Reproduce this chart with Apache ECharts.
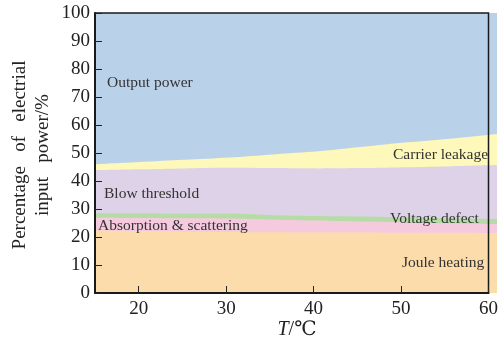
<!DOCTYPE html>
<html>
<head>
<meta charset="utf-8">
<script src="https://cdn.jsdelivr.net/npm/echarts@6/dist/echarts.min.js"></script>
<style>
html,body{margin:0;padding:0;background:#fff}
#wrap{position:relative;width:501px;height:348px}
#c,#o{position:absolute;left:0;top:0;width:501px;height:348px}
</style>
</head>
<body>
<div id="wrap"><div id="c"></div><div id="o"></div></div>
<script>
// Temperature (°C)
const temps = [15, 20, 25, 30, 35, 40, 45, 50, 55, 60];
// Cumulative upper boundaries of each layer (% of electrical input power)
const jouleTop      = [22.3, 22.1, 21.9, 21.8, 21.7, 21.6, 21.6, 21.5, 21.5, 21.4];
const absorptionTop = [26.9, 26.8, 26.7, 26.6, 26.2, 25.9, 25.5, 25.2, 24.9, 24.6];
const voltageTop    = [28.5, 28.5, 28.4, 28.4, 27.8, 27.5, 27.3, 27.0, 26.7, 26.4];
const thresholdTop  = [43.9, 44.2, 44.5, 44.7, 44.6, 44.5, 44.6, 44.9, 45.3, 45.7];
const leakageTop    = [46.0, 46.8, 47.6, 48.4, 49.5, 50.6, 52.2, 53.8, 55.2, 56.8];
const outputTop     = [100, 100, 100, 100, 100, 100, 100, 100, 100, 100];
const yTicks = [0, 10, 20, 30, 40, 50, 60, 70, 80, 90, 100];
const xTicks = [20, 30, 40, 50, 60];

// drawn back-to-front: each area fills from its upper boundary down to 0
const layers = [
  {name: 'Output power', top: outputTop, color: '#bad1ea'},
  {name: 'Carrier leakage', top: leakageTop, color: '#fef8bb'},
  {name: 'Blow threshold', top: thresholdTop, color: '#ddd2e8'},
  {name: 'Voltage defect', top: voltageTop, color: '#b6dca6'},
  {name: 'Absorption & scattering', top: absorptionTop, color: '#f6cade'},
  {name: 'Joule heating', top: jouleTop, color: '#fcdcab'}
];

const serif = '"Liberation Serif", "DejaVu Serif", serif';
const gridBox = {left: 95, right: 4, top: 13, bottom: 55};

// ---- bottom chart: the filled areas ----
const series = layers.map(l => ({
  name: l.name,
  type: 'line',
  smooth: 0.3,
  showSymbol: false,
  symbol: 'none',
  lineStyle: {width: 0},
  areaStyle: {color: l.color, opacity: 1, origin: 'start'},
  data: temps.map((t, i) => [t, l.top[i]])
}));
const chart = echarts.init(document.getElementById('c'), null, {renderer: 'canvas'});
chart.setOption({
  animation: false,
  backgroundColor: '#fff',
  grid: gridBox,
  xAxis: {type: 'value', min: 15, max: 60, show: false},
  yAxis: {type: 'value', min: 0, max: 100, interval: 10, show: false},
  series: series
});

// ---- overlay chart (transparent): axes, ticks, frame and texts on top ----
const textStyle = {fontFamily: serif, fontSize: 15.5, fill: '#333'};
const over = echarts.init(document.getElementById('o'), null, {renderer: 'canvas'});
over.setOption({
  animation: false,
  backgroundColor: 'transparent',
  grid: Object.assign({show: true, borderColor: '#1a1a1a', borderWidth: 1.5, backgroundColor: 'transparent'}, gridBox),
  xAxis: {
    type: 'value', min: 15, max: 60,
    axisLine: {show: true, onZero: false, lineStyle: {color: '#1a1a1a', width: 2}},
    axisTick: {show: true, inside: true, length: 7, lineStyle: {color: '#222', width: 1}, customValues: xTicks},
    axisLabel: {customValues: xTicks, color: '#222', fontFamily: serif, fontSize: 19, margin: 7},
    splitLine: {show: false}
  },
  yAxis: {
    type: 'value', min: 0, max: 100, interval: 10,
    axisLine: {show: true, onZero: false, lineStyle: {color: '#1a1a1a', width: 2}},
    axisTick: {show: true, inside: true, length: 7, lineStyle: {color: '#222', width: 1}},
    axisLabel: {color: '#222', fontFamily: serif, fontSize: 19, margin: 5},
    splitLine: {show: false}
  },
  series: [{type: 'line', data: [], silent: true}],
  graphic: [
    {type: 'text', x: 107, y: 83, style: Object.assign({text: 'Output power', textVerticalAlign: 'middle'}, textStyle)},
    {type: 'text', x: 104, y: 194, style: Object.assign({text: 'Blow threshold', textVerticalAlign: 'middle'}, textStyle)},
    {type: 'text', x: 98, y: 226, style: Object.assign({text: 'Absorption & scattering', textVerticalAlign: 'middle'}, textStyle)},
    {type: 'text', x: 393, y: 155, style: Object.assign({text: 'Carrier leakage', textVerticalAlign: 'middle'}, textStyle)},
    {type: 'text', x: 390, y: 219, style: Object.assign({text: 'Voltage defect', textVerticalAlign: 'middle'}, textStyle)},
    {type: 'text', x: 402, y: 263, style: Object.assign({text: 'Joule heating', textVerticalAlign: 'middle'}, textStyle)},
    {type: 'text', x: 20, y: 155, rotation: Math.PI / 2, style: {text: 'Percentage   of   electrial', fontFamily: serif, fontSize: 19, fill: '#222', textAlign: 'center', textVerticalAlign: 'middle'}},
    {type: 'text', x: 43, y: 155, rotation: Math.PI / 2, style: {text: 'input   power/%', fontFamily: serif, fontSize: 19, fill: '#222', textAlign: 'center', textVerticalAlign: 'middle'}},
    {type: 'text', x: 297, y: 330, style: {
      text: '{i|T}{n|/℃}', textAlign: 'center', textVerticalAlign: 'middle',
      rich: {i: {fontFamily: serif, fontSize: 20, fontStyle: 'italic', fill: '#222'}, n: {fontFamily: serif, fontSize: 20, fill: '#222'}}
    }}
  ]
});
</script>
</body>
</html>
